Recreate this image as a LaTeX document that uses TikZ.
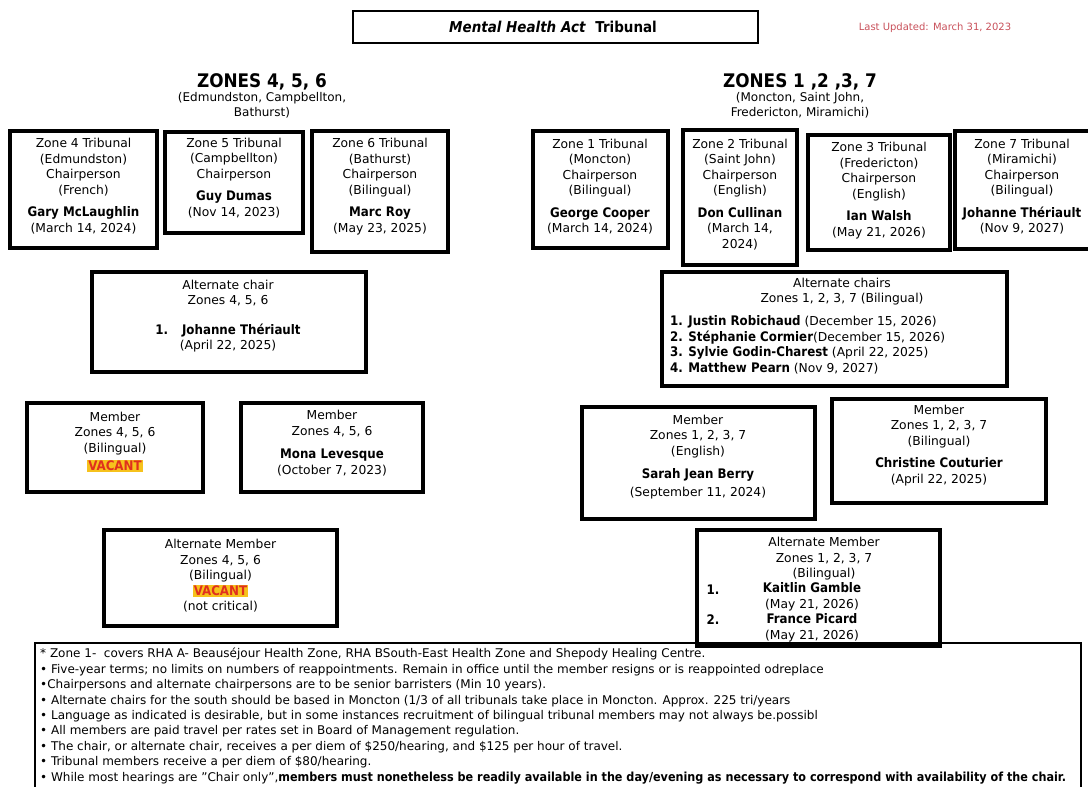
\documentclass[tikz,border=0pt]{standalone}
\usepackage{fontspec}
\setmainfont{DejaVu Sans}[BoldFont={DejaVu Sans Condensed Bold},BoldFeatures={Scale=1.07},BoldItalicFont={DejaVu Sans Condensed Bold Oblique},BoldItalicFeatures={Scale=1.07}]
\definecolor{upd}{HTML}{C8505A}
\definecolor{vacbg}{HTML}{F6C21C}
\definecolor{vacfg}{HTML}{E0301E}
\newcommand\bx{\fontsize{12.3}{15.5}\selectfont}
\newcommand\vac{{\setlength{\fboxsep}{1pt}\colorbox{vacbg}{\textcolor{vacfg}{\bfseries VACANT}}}}
\begin{document}
\begin{tikzpicture}[x=1pt,y=-1pt,
  box/.style={draw, line width=3.4pt, inner sep=0pt},
  txt/.style={inner sep=0pt, align=center, font=\bx},
  lst/.style={inner sep=0pt, align=left, font=\bx},
  head/.style={inner sep=0pt, font=\fontsize{17.5}{20}\selectfont\bfseries},
  sub/.style={inner sep=0pt, align=center, font=\fontsize{12}{15}\selectfont}]
\useasboundingbox (0,0) rectangle (1088,787);

% title
\node[draw, line width=2.4pt, minimum width=405pt, minimum height=32pt, inner sep=0pt] (title) at (555.5,27) {};
\node[inner sep=0pt, font=\fontsize{14}{15}\selectfont\bfseries] (titletxt) at (553,27) {\itshape Mental Health Act\hspace{10pt}\upshape Tribunal};
\node[inner sep=0pt, font=\fontsize{10}{12}\selectfont, text=upd] (upd) at (935,28) {Last Updated: March 31, 2023};

% headings
\node[head] (hL) at (262,82) {ZONES 4, 5, 6};
\node[sub] (hLs) at (262,105.5) {(Edmundston, Campbellton,\\Bathurst)};
\node[head] (hR) at (800,82) {ZONES 1 ,2 ,3, 7};
\node[sub] (hRs) at (800,105.5) {(Moncton, Saint John,\\Fredericton, Miramichi)};

% zone chair boxes
\node[box, minimum width=147pt, minimum height=117pt] (z4) at (83.5,189.5) {};
\node[txt] (z4t) at (83.5,186) {Zone 4 Tribunal\\(Edmundston)\\Chairperson\\(French)\\[7pt]\textbf{Gary McLaughlin}\\(March 14, 2024)};

\node[box, minimum width=138pt, minimum height=101pt] (z5) at (234,182.5) {};
\node[txt] (z5t) at (234,178) {Zone 5 Tribunal\\(Campbellton)\\Chairperson\\[7pt]\textbf{Guy Dumas}\\(Nov 14, 2023)};

\node[box, minimum width=136pt, minimum height=121pt] (z6) at (380,191.5) {};
\node[txt] (z6t) at (380,186.5) {Zone 6 Tribunal\\(Bathurst)\\Chairperson\\(Bilingual)\\[7pt]\textbf{Marc Roy}\\(May 23, 2025)};

\node[box, minimum width=135pt, minimum height=117pt] (z1) at (600.5,189.5) {};
\node[txt] (z1t) at (600,186.5) {Zone 1 Tribunal\\(Moncton)\\Chairperson\\(Bilingual)\\[7pt]\textbf{George Cooper}\\(March 14, 2024)};

\node[box, minimum width=114pt, minimum height=135pt] (z2) at (740,197.5) {};
\node[txt] (z2t) at (740,194.5) {Zone 2 Tribunal\\(Saint John)\\Chairperson\\(English)\\[7pt]\textbf{Don Cullinan}\\(March 14,\\2024)};

\node[box, minimum width=142pt, minimum height=115pt] (z3) at (879,192.5) {};
\node[txt] (z3t) at (879,190.5) {Zone 3 Tribunal\\(Fredericton)\\Chairperson\\(English)\\[7pt]\textbf{Ian Walsh}\\(May 21, 2026)};

\node[box, minimum width=138pt, minimum height=118pt] (z7) at (1024,190) {};
\node[txt] (z7t) at (1022,186.5) {Zone 7 Tribunal\\(Miramichi)\\Chairperson\\(Bilingual)\\[7pt]\textbf{Johanne Thériault}\\(Nov 9, 2027)};

% alternate chairs
\node[box, minimum width=274pt, minimum height=100pt] (altL) at (229,322) {};
\node[txt] (altLt) at (228,316) {Alternate chair\\Zones 4, 5, 6\\[14pt]\textbf{1.}\hspace{14pt}\textbf{Johanne Thériault}\\(April 22, 2025)};

\node[box, minimum width=345pt, minimum height=114pt] (altR) at (834.5,329) {};
\node[txt] (altRh) at (842,291.5) {Alternate chairs\\Zones 1, 2, 3, 7 (Bilingual)};
\node[lst, anchor=west] (altRl) at (670,345) {\textbf{1. Justin Robichaud} (December 15, 2026)\\\textbf{2. Stéphanie Cormier}(December 15, 2026)\\\textbf{3. Sylvie Godin-Charest} (April 22, 2025)\\\textbf{4. Matthew Pearn} (Nov 9, 2027)};

% members
\node[box, minimum width=176pt, minimum height=89pt] (memL1) at (115,447.5) {};
\node[txt] (memL1t) at (115,442) {Member\\Zones 4, 5, 6\\(Bilingual)\\[3pt]\vac};

\node[box, minimum width=182pt, minimum height=89pt] (memL2) at (332,447.5) {};
\node[txt] (memL2t) at (332,443) {Member\\Zones 4, 5, 6\\[8pt]\textbf{Mona Levesque}\\(October 7, 2023)};

\node[box, minimum width=233pt, minimum height=112pt] (memR1) at (698.5,463) {};
\node[txt] (memR1t) at (698,457) {Member\\Zones 1, 2, 3, 7\\(English)\\[8pt]\textbf{Sarah Jean Berry}\\[2pt](September 11, 2024)};

\node[box, minimum width=214pt, minimum height=104pt] (memR2) at (939,451) {};
\node[txt] (memR2t) at (939,445.5) {Member\\Zones 1, 2, 3, 7\\(Bilingual)\\[7pt]\textbf{Christine Couturier}\\(April 22, 2025)};

% alternate members
\node[box, minimum width=233pt, minimum height=96pt] (altML) at (220.5,578) {};
\node[txt] (altMLt) at (220.5,576) {Alternate Member\\Zones 4, 5, 6\\(Bilingual)\\\vac\\(not critical)};

\node[box, minimum width=243pt, minimum height=116pt] (altMR) at (818.5,588) {};
\node[txt] (altMRh) at (824,559) {Alternate Member\\Zones 1, 2, 3, 7\\(Bilingual)};
\node[txt] (altMRn) at (812,612.5) {\textbf{Kaitlin Gamble}\\(May 21, 2026)\\\textbf{France Picard}\\(May 21, 2026)};
\node[txt, font=\bx\bfseries] (altMR1) at (713,590) {1.};
\node[txt, font=\bx\bfseries] (altMR2) at (713,620) {2.};

% notes
\node[draw, line width=2pt, minimum width=1046pt, minimum height=157pt, inner sep=0pt] (notes) at (558,721.5) {};
\node[inner sep=0pt, anchor=north west, align=left, font=\fontsize{12}{15.4}\selectfont] (notestxt) at (40,648) {%
* Zone 1-\ \ covers RHA A- Beauséjour Health Zone, RHA BSouth-East Health Zone and Shepody Healing Centre.\\
• Five-year terms; no limits on numbers of reappointments. Remain in office until the member resigns or is reappointed odreplace\\
•Chairpersons and alternate chairpersons are to be senior barristers (Min 10 years).\\
• Alternate chairs for the south should be based in Moncton (1/3 of all tribunals take place in Moncton. Approx. 225 tri/years\\
• Language as indicated is desirable, but in some instances recruitment of bilingual tribunal members may not always be.possibl\\
• All members are paid travel per rates set in Board of Management regulation.\\
• The chair, or alternate chair, receives a per diem of \$250/hearing, and \$125 per hour of travel.\\
• Tribunal members receive a per diem of \$80/hearing.\\
• While most hearings are "Chair only",{\fontsize{11.65}{15.4}\selectfont\bfseries members must nonetheless be readily available in the day/evening as necessary to correspond with availability of the chair.}};
\end{tikzpicture}
\end{document}
